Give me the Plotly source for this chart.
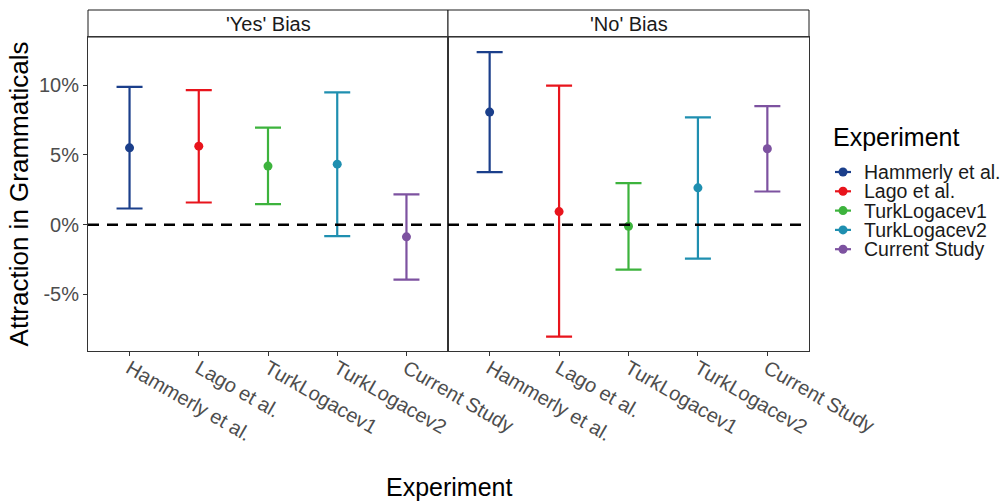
import plotly.graph_objects as go
from plotly.subplots import make_subplots

# Attraction effects (in %) with interval bounds, per study and bias condition
experiments = ["Hammerly et al.", "Lago et al.", "TurkLogacev1", "TurkLogacev2", "Current Study"]
panels = ["'Yes' Bias", "'No' Bias"]
colors = ["#1B3F8B", "#E8141C", "#3DB33D", "#1F8FB0", "#7D52A0"]

yes_est = [5.51, 5.63, 4.20, 4.34, -0.87]
yes_lo = [1.16, 1.59, 1.47, -0.82, -3.93]
yes_hi = [9.88, 9.65, 6.95, 9.48, 2.17]

no_est = [8.07, 0.94, -0.11, 2.64, 5.44]
no_lo = [3.77, -8.02, -3.22, -2.43, 2.38]
no_hi = [12.37, 9.96, 2.98, 7.69, 8.50]

y_ticks = [-5, 0, 5, 10]
y_tick_text = ["-5%", "0%", "5%", "10%"]

FONT = "Liberation Sans"
AXIS_COL = "#333333"
TEXT_COL = "#4D4D4D"

W, H = 1008, 501
ML, MR, MT, MB = 88, 199, 37, 150
PW, PH = W - ML - MR, H - MT - MB


def px_x(px):
    return (px - ML) / PW


def px_y(py):
    return (H - MB - py) / PH


fig = make_subplots(rows=1, cols=2, shared_yaxes=True, horizontal_spacing=0)

panel_data = [(yes_est, yes_lo, yes_hi), (no_est, no_lo, no_hi)]
for col, (est, lo, hi) in enumerate(panel_data, start=1):
    for i, name in enumerate(experiments):
        fig.add_trace(
            go.Scatter(
                x=[name], y=[est[i]],
                mode="markers",
                name=name,
                showlegend=False,
                marker=dict(color=colors[i], size=9),
                error_y=dict(
                    type="data", symmetric=False,
                    array=[hi[i] - est[i]], arrayminus=[est[i] - lo[i]],
                    color=colors[i], thickness=2.2, width=13,
                ),
            ),
            row=1, col=col,
        )

split = 360 / PW
fig.update_layout(
    width=W, height=H,
    margin=dict(l=ML, r=MR, t=MT, b=MB),
    paper_bgcolor="white", plot_bgcolor="white",
    font=dict(family=FONT, size=20, color=TEXT_COL),
    showlegend=False,
    xaxis=dict(domain=[0, split]),
    xaxis2=dict(domain=[split, 1]),
)

for ax in ("xaxis", "xaxis2"):
    fig.layout[ax].update(
        type="category", categoryorder="array", categoryarray=experiments,
        range=[-0.6, 4.6], showgrid=False, zeroline=False,
        showline=True, mirror=True, linecolor=AXIS_COL, linewidth=1,
        ticks="outside", ticklen=4, tickcolor=AXIS_COL, tickwidth=1,
        tickangle=30, tickfont=dict(size=20, color=TEXT_COL),
        ticklabelstandoff=-7,
    )
for ax in ("yaxis", "yaxis2"):
    fig.layout[ax].update(
        range=[-9.05, 13.45], showgrid=False, zeroline=False,
        showline=True, mirror=True, linecolor=AXIS_COL, linewidth=1,
        tickvals=y_ticks, ticktext=y_tick_text,
    )
fig.layout.yaxis.update(
    ticks="outside", ticklen=4, tickcolor=AXIS_COL, tickwidth=1,
    tickfont=dict(size=20, color=TEXT_COL),
    title=dict(text="Attraction in Grammaticals", font=dict(size=26, color="#000000"), standoff=2),
)
fig.layout.yaxis2.update(ticks="", showticklabels=False)

fig.update_xaxes(title=None)
fig.add_annotation(
    text="Experiment", xref="paper", yref="paper", x=0.5, y=px_y(487),
    xanchor="center", yanchor="middle", showarrow=False,
    font=dict(size=25, color="#000000"),
)

# Zero reference lines
for xref in ("x domain", "x2 domain"):
    fig.add_shape(type="line", xref=xref, yref="y", x0=0, x1=1, y0=0, y1=0,
                  line=dict(color="black", width=2.5, dash="11px,8px"))

# Facet strips
strip_top = px_y(10)
for (a, b), label in zip([(0, split), (split, 1)], panels):
    fig.add_shape(type="rect", xref="paper", yref="paper", x0=a, x1=b, y0=1, y1=strip_top,
                  line=dict(color="#1A1A1A", width=1), fillcolor="white", layer="below")
    fig.add_annotation(text=label, xref="paper", yref="paper", x=(a + b) / 2,
                       y=(1 + strip_top) / 2, xanchor="center", yanchor="middle",
                       showarrow=False, font=dict(size=20, color="#1A1A1A"))

# Legend: title, then one pointrange key per experiment
fig.add_annotation(text="Experiment", xref="paper", yref="paper", x=px_x(831), y=px_y(137),
                   xanchor="left", yanchor="middle", showarrow=False,
                   font=dict(size=25, color="#000000"))
for i, name in enumerate(experiments):
    yc = px_y(172 + 19.3 * i)
    xc = px_x(843)
    fig.add_shape(type="line", xref="paper", yref="paper", xsizemode="pixel",
                  xanchor=xc, x0=-8, x1=8, y0=yc, y1=yc,
                  line=dict(color=colors[i], width=2.2))
    fig.add_shape(type="circle", xref="paper", yref="paper",
                  xsizemode="pixel", ysizemode="pixel", xanchor=xc, yanchor=yc,
                  x0=-4.5, x1=4.5, y0=-4.5, y1=4.5,
                  fillcolor=colors[i], line=dict(width=0))
    fig.add_annotation(text=name, xref="paper", yref="paper", x=px_x(862), y=yc,
                       xanchor="left", yanchor="middle", showarrow=False,
                       font=dict(size=19.5, color="#1A1A1A"))

fig.write_html("out.html")
